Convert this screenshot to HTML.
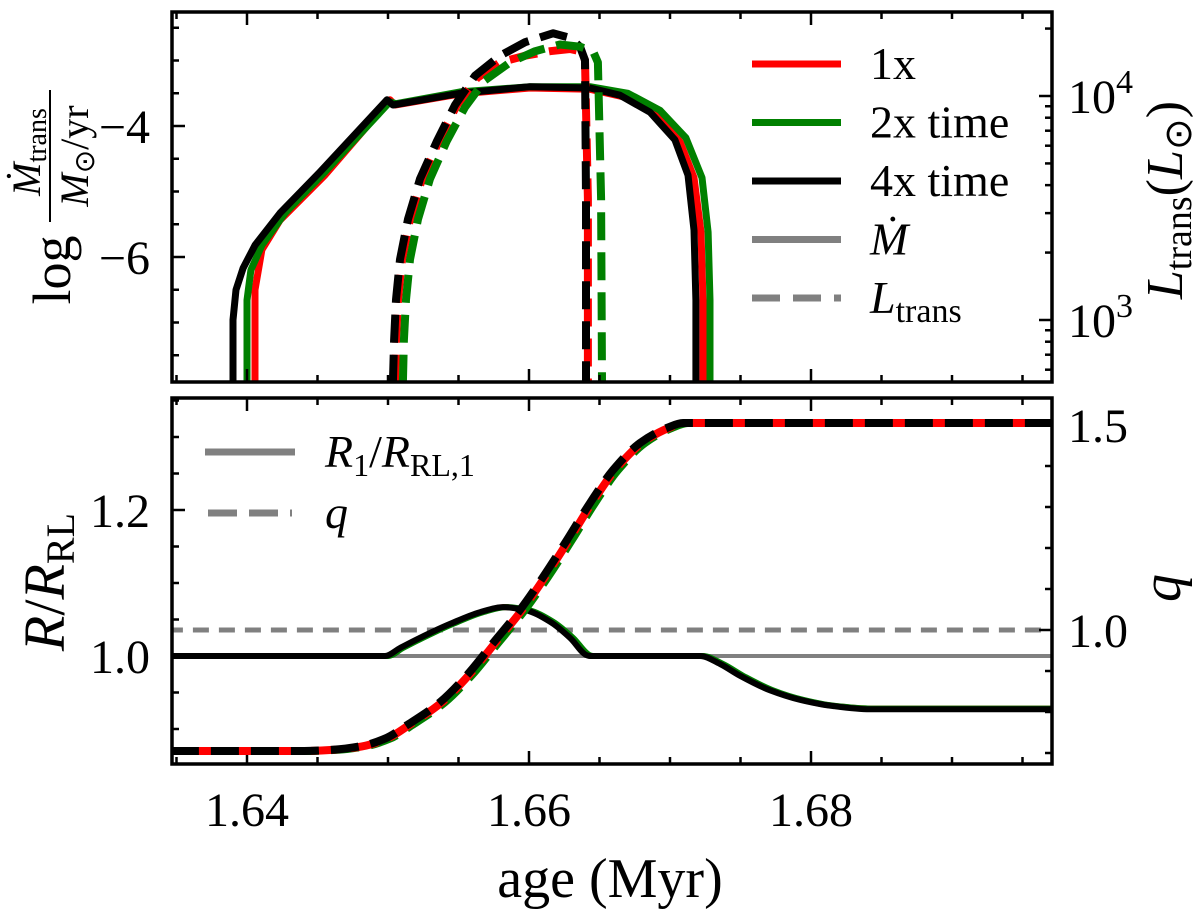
<!DOCTYPE html>
<html><head><meta charset="utf-8">
<style>
html,body{margin:0;padding:0;background:#fff;}
svg{display:block;font-family:"Liberation Serif",serif;}
</style></head>
<body>
<svg id="fig" width="1200" height="910" viewBox="0 0 1200 910" xmlns="http://www.w3.org/2000/svg">
<defs>
<clipPath id="clipTop"><rect x="172" y="12" width="880" height="370"/></clipPath>
<clipPath id="clipBot"><rect x="172" y="398" width="880" height="366"/></clipPath>
</defs>
<g id="topPanel"></g>
<g id="botPanel"></g>
<g id="labels">
  <g transform="rotate(-90)">
    <text x="-270" y="70" font-size="54" text-anchor="middle">log</text>
    <line x1="-222" y1="50" x2="-90" y2="50" stroke="#000" stroke-width="2"/>
    <text x="-152" y="40" font-size="40" text-anchor="middle"><tspan font-style="italic">Ṁ</tspan><tspan font-size="28" dy="6">trans</tspan></text>
    <text x="-156" y="88" font-size="40" text-anchor="middle"><tspan font-style="italic">M</tspan><tspan font-size="28" dy="6">⊙</tspan><tspan dy="-6">/yr</tspan></text>
  </g>
  <g transform="rotate(-90)">
    <text x="-200" y="1182" font-size="52" text-anchor="middle"><tspan font-style="italic">L</tspan><tspan font-size="38" dy="9">trans</tspan><tspan dy="-9">(</tspan><tspan font-style="italic">L</tspan><tspan font-size="38" dy="9">⊙</tspan><tspan dy="-9">)</tspan></text>
  </g>
  <g transform="rotate(-90)">
    <text x="-582" y="64" font-size="58" text-anchor="middle"><tspan font-style="italic">R</tspan>/<tspan font-style="italic">R</tspan><tspan font-size="40" dy="10">RL</tspan></text>
  </g>
  <g transform="rotate(-90)">
    <text x="-588" y="1180" font-size="56" font-style="italic" text-anchor="middle">q</text>
  </g>
  <text x="610" y="897" font-size="56" text-anchor="middle">age (Myr)</text>
</g>
</svg>
<script>
// ---------- data: top panel, mass-transfer rate (log Msun/yr) ----------
const t_mdot_1x   = [1.64057,1.64057,1.64106,1.64234,1.64553,1.65014,1.65050,1.65511,1.66007,1.66433,1.66681,1.66894,1.67071,1.67170,1.67220,1.67234,1.67234];
const mdot_1x     = [-8.0,-6.50,-5.89,-5.44,-4.75,-3.60,-3.68,-3.51,-3.42,-3.44,-3.56,-3.82,-4.24,-4.79,-5.62,-6.66,-8.0];
const t_mdot_2x   = [1.64000,1.64000,1.64028,1.64106,1.64270,1.64553,1.65014,1.65057,1.65511,1.66007,1.66433,1.66702,1.66929,1.67113,1.67227,1.67270,1.67284,1.67284];
const mdot_2x     = [-8.0,-6.66,-6.20,-5.82,-5.33,-4.70,-3.63,-3.66,-3.48,-3.40,-3.40,-3.50,-3.76,-4.18,-4.79,-5.62,-6.66,-8.0];
const t_mdot_4x   = [1.63901,1.63901,1.63922,1.63972,1.64057,1.64234,1.64518,1.64993,1.65035,1.65511,1.66007,1.66433,1.66645,1.66858,1.67035,1.67128,1.67170,1.67184,1.67184];
const mdot_4x     = [-8.0,-6.96,-6.50,-6.17,-5.82,-5.33,-4.70,-3.60,-3.68,-3.50,-3.40,-3.42,-3.53,-3.79,-4.21,-4.75,-5.59,-6.66,-8.0];
// ---------- data: top panel, transfer luminosity (log Lsun) ----------
const t_L_1x  = [1.65050,1.65057,1.65071,1.65099,1.65156,1.65241,1.65362,1.65489,1.65631,1.65794,1.65972,1.66149,1.66291,1.66362,1.66397,1.66418,1.66418];
const logL_1x = [2.72,2.91,3.09,3.27,3.45,3.63,3.80,3.96,4.08,4.15,4.18,4.20,4.21,4.20,4.16,3.54,2.72];
const t_L_2x  = [1.65106,1.65113,1.65128,1.65156,1.65213,1.65298,1.65418,1.65546,1.65688,1.65865,1.66043,1.66220,1.66362,1.66454,1.66489,1.66511,1.66518];
const logL_2x = [2.72,2.91,3.09,3.27,3.45,3.63,3.80,3.95,4.07,4.15,4.20,4.23,4.22,4.20,4.15,3.54,2.72];
const t_L_4x  = [1.65035,1.65043,1.65057,1.65085,1.65142,1.65227,1.65348,1.65475,1.65617,1.65794,1.65972,1.66170,1.66291,1.66362,1.66397,1.66404,1.66404];
const logL_4x = [2.72,2.91,3.09,3.27,3.45,3.63,3.80,3.96,4.09,4.18,4.24,4.28,4.26,4.22,4.16,3.54,2.72];
// ---------- data: bottom panel, R/RL ----------
const t_R_4x = [1.6346,1.64979,1.65085,1.65227,1.65440,1.65652,1.65816,1.65972,1.66149,1.66291,1.66411,1.66433,1.67213,1.67355,1.67496,1.67709,1.67922,1.68135,1.68418,1.6975];
const R_4x   = [1.000,1.000,1.011,1.025,1.044,1.060,1.067,1.063,1.047,1.025,1.001,1.000,1.000,0.989,0.973,0.953,0.940,0.932,0.927,0.927];
const t_R_2x = [1.6346,1.65000,1.65106,1.65248,1.65461,1.65674,1.65837,1.65993,1.66170,1.66312,1.66433,1.66454,1.67234,1.67376,1.67518,1.67730,1.67943,1.68156,1.68440,1.6975];
const R_2x   = [1.000,1.000,1.011,1.025,1.044,1.060,1.067,1.063,1.047,1.025,1.001,1.000,1.000,0.989,0.973,0.953,0.940,0.932,0.928,0.928];
const t_R_1x = [1.6346,1.64990,1.65096,1.65238,1.65450,1.65663,1.65826,1.65982,1.66160,1.66302,1.66422,1.66443,1.67224,1.67366,1.67507,1.67720,1.67933,1.68146,1.68429,1.6975];
const R_1x   = [1.000,1.000,1.011,1.025,1.044,1.060,1.067,1.063,1.047,1.025,1.001,1.000,1.000,0.989,0.973,0.953,0.940,0.932,0.928,0.928];
// ---------- data: bottom panel, q ----------
const t_q_4x = [1.6346,1.64376,1.64610,1.64801,1.64979,1.65135,1.65369,1.65560,1.65745,1.65936,1.66099,1.66270,1.66433,1.66596,1.66787,1.66979,1.67092,1.6975];
const q_4x   = [0.705,0.705,0.708,0.716,0.735,0.768,0.824,0.890,0.968,1.049,1.129,1.220,1.310,1.390,1.456,1.493,1.505,1.505];
const t_q_2x = [1.6346,1.64411,1.64645,1.64836,1.65014,1.65170,1.65404,1.65595,1.65780,1.65971,1.66134,1.66305,1.66468,1.66631,1.66822,1.67014,1.67127,1.6975];
const q_2x   = [0.705,0.705,0.708,0.716,0.735,0.768,0.824,0.890,0.968,1.049,1.129,1.220,1.310,1.390,1.456,1.493,1.505,1.505];
const t_q_1x = [1.6346,1.64390,1.64624,1.64815,1.64993,1.65149,1.65383,1.65574,1.65759,1.65950,1.66113,1.66284,1.66447,1.66610,1.66801,1.66993,1.67106,1.6975];
const q_1x   = [0.705,0.705,0.708,0.716,0.735,0.768,0.824,0.890,0.968,1.049,1.129,1.220,1.310,1.390,1.456,1.493,1.505,1.505];
// reference levels
const rRef = [1.0];
const qRef = [1.0];
// tick labels
const xTickVals = [1.64,1.66,1.68];
const xTickLabels = ["1.64","1.66","1.68"];
const mdotTickVals = [-4,-6];
const mdotTickLabels = ["−4","−6"];
const lTickExp = [3,4];
const rTickVals = [1.0,1.2];
const rTickLabels = ["1.0","1.2"];
const qTickVals = [1.0,1.5];
const qTickLabels = ["1.0","1.5"];

// ---------- scales ----------
const XL=172, XR=1052, T1=12, B1=382, T2=398, B2=764;
const X = t => 247 + (t-1.64)*14100;
const YM = v => 126 - (v+4)*65.5;
const YL = v => 320 - (v-3)*224;
const YR = v => 656 - (v-1.0)*730;
const YQ = v => 630 - (v-1.0)*410;
const NS="http://www.w3.org/2000/svg";
function mk(tag, attrs, parent){
  const e=document.createElementNS(NS,tag);
  for(const k in attrs) e.setAttribute(k,attrs[k]);
  parent.appendChild(e); return e;
}
function pathD(ts, vs, ys, smooth){
  const P=ts.map((t,i)=>[X(t),ys(vs[i])]);
  if(!smooth) return P.map((p,i)=>(i?'L':'M')+p[0].toFixed(1)+' '+p[1].toFixed(1)).join(' ');
  // monotone cubic (Fritsch-Carlson) in x
  const n=P.length, h=[], d=[], m=new Array(n).fill(0);
  for(let i=0;i<n-1;i++){h[i]=P[i+1][0]-P[i][0]; d[i]=(P[i+1][1]-P[i][1])/h[i];}
  m[0]=d[0]; m[n-1]=d[n-2];
  for(let i=1;i<n-1;i++){
    if(d[i-1]*d[i]<=0){m[i]=0;}
    else{const w1=2*h[i]+h[i-1], w2=h[i]+2*h[i-1]; m[i]=(w1+w2)/(w1/d[i-1]+w2/d[i]);}
  }
  if(d[0]===0) m[0]=0; if(d[n-2]===0) m[n-1]=0;
  let s='M'+P[0][0].toFixed(1)+' '+P[0][1].toFixed(1);
  for(let i=0;i<n-1;i++){
    const k=h[i]/3;
    s+=' C'+(P[i][0]+k).toFixed(1)+' '+(P[i][1]+m[i]*k).toFixed(1)+' '+(P[i+1][0]-k).toFixed(1)+' '+(P[i+1][1]-m[i+1]*k).toFixed(1)+' '+P[i+1][0].toFixed(1)+' '+P[i+1][1].toFixed(1);
  }
  return s;
}
const topG=document.getElementById('topPanel');
const botG=document.getElementById('botPanel');
const topC=mk('g',{'clip-path':'url(#clipTop)'},topG);
const botC=mk('g',{'clip-path':'url(#clipBot)'},botG);

function line(parent, ts, vs, ys, color, w, dash, off, name, smooth){
  const p=mk('path',{d:pathD(ts,vs,ys,smooth),fill:'none',stroke:color,'stroke-width':w,'stroke-linejoin':'round'},parent);
  if(dash){p.setAttribute('stroke-dasharray',dash);p.setAttribute('stroke-dashoffset',off||0);}
  
  
  return p;
}
// top panel series
line(topC,t_mdot_1x,mdot_1x,YM,'#ff0000',7,null,0,'mdot-1x',false);
line(topC,t_mdot_2x,mdot_2x,YM,'#008000',7,null,0,'mdot-2x',false);
line(topC,t_mdot_4x,mdot_4x,YM,'#000000',7,null,0,'mdot-4x',false);
line(topC,t_L_1x,logL_1x,YL,'#ff0000',8,'28 12',0,'ltrans-1x',false);
line(topC,t_L_4x,logL_4x,YL,'#000000',8,'28 12',0,'ltrans-4x',false);
line(topC,t_L_2x,logL_2x,YL,'#008000',8,'28 12',0,'ltrans-2x',false);
// bottom panel series
line(botC,[1.6346,1.6975],[rRef[0],rRef[0]],YR,'#808080',4,null,0,'r-equals-rl-line',false);
line(botC,[1.6346,1.6975],[qRef[0],qRef[0]],YQ,'#808080',5,'16 10',4,'q-equals-one-line',false);
line(botC,t_R_1x,R_1x,YR,'#ff0000',6,null,0,'radius-ratio-1x',true);
line(botC,t_R_2x,R_2x,YR,'#008000',6,null,0,'radius-ratio-2x',true);
line(botC,t_R_4x,R_4x,YR,'#000000',6,null,0,'radius-ratio-4x',true);
line(botC,t_q_2x,q_2x,YQ,'#008000',8,'28 12',0,'q-2x',true);
line(botC,t_q_1x,q_1x,YQ,'#ff0000',8,'28 12',20,'q-1x',true);
line(botC,t_q_4x,q_4x,YQ,'#000000',8,'28 12',0,'q-4x',true);

// ---------- axes ----------
function frame(g,top,bot,name){
  const r=mk('rect',{x:XL,y:top,width:XR-XL,height:bot-top,fill:'none',stroke:'#000','stroke-width':3.5},g);
  
  
}
function tick(g,x1,y1,x2,y2,w){mk('line',{x1,y1,x2,y2,stroke:'#000','stroke-width':w||2.5},g);}
function txt(g,x,y,s,anchor,size,name){
  const e=mk('text',{x,y,'font-size':size||48,'text-anchor':anchor||'middle'},g);
  e.textContent=s;
  
  
  return e;
}
frame(topG,T1,B1,'top-axes-frame');
frame(botG,T2,B2,'bottom-axes-frame');
for(let k=0;k<=12;k++){
  const t=1.635+k*0.005; const x=X(t);
  if(x<XL||x>XR) continue;
  const major=Math.abs((t-1.64)/0.02-Math.round((t-1.64)/0.02))<1e-6;
  const L=major?13:7;
  [[T1,B1],[T2,B2]].forEach(([a,b])=>{tick(topG,x,a,x,a+L);tick(topG,x,b,x,b-L);});
}
xTickVals.forEach((v,i)=>txt(botG,X(v),826,xTickLabels[i],'middle',48,'x-tick-label'));
for(let v=-7.5;v<=-2.5;v+=0.5){
  const y=YM(v); if(y<T1||y>B1) continue;
  const major=Math.abs(v-Math.round(v))<1e-6 && Math.round(v)%2===0;
  tick(topG,XL,y,XL+(major?13:7),y);
}
mdotTickVals.forEach((v,i)=>txt(topG,150,YM(v)+17,mdotTickLabels[i],'end',48,'mdot-tick-label'));
for(let e=2;e<=4;e++){
  for(let m=1;m<10;m++){
    const y=YL(e+Math.log10(m)); if(y<T1||y>B1) continue;
    tick(topG,XR,y,XR-(m===1?13:7),y);
  }
}
lTickExp.forEach(e=>{
  const t=mk('text',{x:1068,y:YL(e)+17,'font-size':48},topG);
  
  
  t.innerHTML='10<tspan font-size="34" dy="-20">'+e+'</tspan>';
});
for(let k=0;k<12;k++){
  const v=0.85+k*0.05; const y=YR(v); if(y<T2||y>B2) continue;
  const major=Math.abs(v/0.2-Math.round(v/0.2))<1e-6;
  tick(botG,XL,y,XL+(major?13:7),y);
}
rTickVals.forEach((v,i)=>txt(botG,150,YR(v)+17,rTickLabels[i],'end',48,'radius-tick-label'));
for(let k=0;k<10;k++){
  const v=0.7+k*0.1; const y=YQ(v); if(y<T2||y>B2) continue;
  const major=Math.abs(v/0.5-Math.round(v/0.5))<1e-6;
  tick(botG,XR,y,XR-(major?13:7),y);
}
qTickVals.forEach((v,i)=>txt(botG,1068,YQ(v)+17,qTickLabels[i],'start',48,'q-tick-label'));

// ---------- legends ----------
const legTop=mk('g',{},topG);


const legItems=[['#ff0000',null,'1x'],['#008000',null,'2x time'],['#000000',null,'4x time'],['#808080',null,'Ṁ'],['#808080','28 13','L']];
legItems.forEach((it,i)=>{
  const y=64+i*58.5;
  const l=mk('line',{x1:752,y1:y,x2:841,y2:y,stroke:it[0],'stroke-width':7},legTop);
  if(it[1]) l.setAttribute('stroke-dasharray',it[1]);
  const tx=mk('text',{x:870,y:y+15,'font-size':46},legTop);
  
  
  if(i===3) tx.innerHTML='<tspan font-style="italic">Ṁ</tspan>';
  else if(i===4) tx.innerHTML='<tspan font-style="italic">L</tspan><tspan font-size="34" dy="9">trans</tspan>';
  else tx.textContent=it[2];
});
const legBot=mk('g',{},botG);


mk('line',{x1:205,y1:452,x2:295,y2:452,stroke:'#808080','stroke-width':7},legBot);
mk('line',{x1:208,y1:513,x2:292,y2:513,stroke:'#808080','stroke-width':7,'stroke-dasharray':'29 12'},legBot);
const lt1=mk('text',{x:325,y:467,'font-size':46},legBot);


lt1.innerHTML='<tspan font-style="italic">R</tspan><tspan font-size="32" dy="9">1</tspan><tspan dy="-9">/</tspan><tspan font-style="italic">R</tspan><tspan font-size="32" dy="9">RL,1</tspan>';
const lt2=mk('text',{x:325,y:528,'font-size':46,'font-style':'italic'},legBot);


lt2.textContent='q';
</script>
</body></html>
